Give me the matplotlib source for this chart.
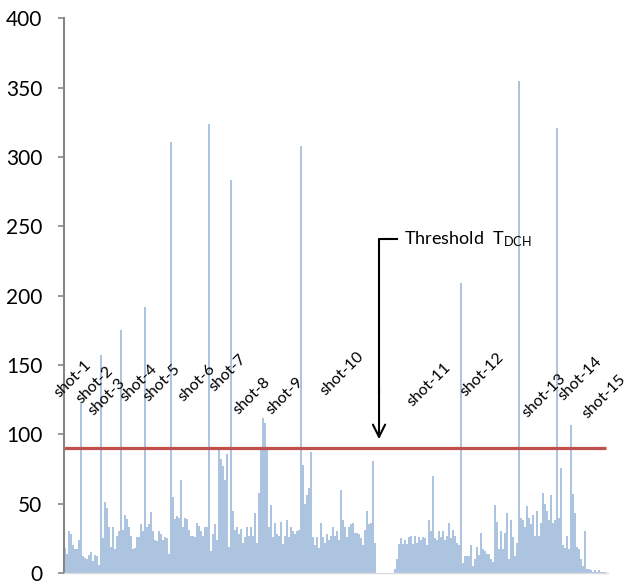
'''frame difference per frame with shot boundaries and threshold.'''
import numpy as np
import matplotlib
matplotlib.use('Agg')
import matplotlib.pyplot as plt

plt.rcParams['font.family'] = ['Lato', 'DejaVu Sans']
plt.rcParams['mathtext.fontset'] = 'custom'
plt.rcParams['mathtext.rm'] = 'Lato'

# frame difference values (one bar per frame)
frame_diff = [
    18, 14, 30, 28, 20, 17, 17, 24, 123, 12,      # shot-1
    11, 10, 13, 15, 9, 13, 12, 6, 157, 25,        # shot-2
    51, 47, 33, 19, 33, 17, 27, 30, 175, 31,      # shot-3 / 4
    42, 39, 33, 27, 17, 18, 26, 26, 35, 30,
    192, 33, 35, 44, 30, 24, 23, 30, 28, 24,      # shot-5
    26, 25, 14, 311, 55, 39, 41, 40, 67, 33,      # shot-6
    40, 39, 31, 27, 27, 26, 36, 34, 30, 27,
    33, 33, 324, 16, 28, 35, 24, 91, 82, 77,      # shot-7
    67, 86, 19, 283, 45, 31, 33, 28, 32, 22,      # shot-8
    26, 33, 27, 33, 27, 43, 22, 58, 91, 112,
    108, 91, 33, 49, 26, 36, 28, 27, 37, 21,
    27, 38, 26, 33, 30, 28, 30, 31, 308, 78,      # shot-10
    50, 56, 61, 87, 26, 20, 26, 18, 36, 26,
    22, 28, 24, 27, 33, 27, 30, 24, 60, 38,
    33, 26, 33, 35, 36, 29, 29, 28, 25, 20,
    31, 45, 35, 36, 81, 22, 0, 0, 0, 0,           # missing frames
    0, 0, 0, 0, 0, 3, 10, 21, 25, 21,             # shot-11
    24, 21, 26, 27, 21, 27, 22, 26, 24, 26,
    25, 20, 38, 30, 70, 25, 24, 30, 26, 30,
    24, 27, 36, 25, 31, 27, 22, 20, 209, 7,       # shot-12
    12, 12, 12, 20, 5, 10, 19, 13, 29, 17,
    16, 14, 14, 10, 8, 49, 37, 17, 30, 17,
    29, 43, 10, 38, 26, 12, 22, 355, 40, 38,      # shot-13
    33, 48, 40, 35, 42, 27, 45, 27, 36, 58,
    50, 45, 38, 56, 36, 38, 321, 40, 76, 20,      # shot-14
    18, 27, 17, 107, 57, 43, 19, 17, 10, 5,       # shot-15
    30, 3, 3, 2, 1, 2, 1, 2, 1, 1, 1,
]

threshold = 90
shot_names = ['shot-%d' % k for k in range(1, 16)]
# label anchor (frame index, value) for each shot name
label_frame = [4, 15, 21, 37, 48.5, 66, 81.5, 93.5, 110, 138.5, 182, 208.5, 239.5, 257.5, 269.5]
label_value = [140, 135.5, 127, 137, 137, 137, 144, 127.5, 128, 144, 135.5, 143, 128, 140, 127]

frames = np.arange(len(frame_diff))

fig = plt.figure(figsize=(6.29, 5.84), dpi=100)
ax = fig.add_axes([0.1017, 0.0188, 0.865, 0.950])

ax.bar(frames, frame_diff, width=0.9, color='#adc4e1', linewidth=0)
ax.hlines(threshold, -0.5, len(frame_diff) - 0.5, color='#c0504d', lw=2.3)

for name, fx, fy in zip(shot_names, label_frame, label_value):
    ax.text(fx, fy, name, rotation=45, ha='center', va='center', fontsize=11.5,
            clip_on=False)

# threshold annotation
ax.plot([157, 157, 166], [threshold + 40, 240.7, 240.7], color='black', lw=1.5)
ax.annotate('', xy=(157, threshold + 4.5), xytext=(157, threshold + 45),
            arrowprops=dict(arrowstyle='->', lw=1.5, color='black', mutation_scale=22))
ax.text(169.5, 240.7, r'Threshold  $\mathregular{T_{DCH}}$', ha='left', va='center',
        fontsize=13)

ax.set_xlim(-0.5, 271.5)
ax.set_ylim(0, 400)
ax.set_yticks(np.arange(0, 401, 50))
ax.set_xticks([])
ax.tick_params(axis='y', direction='out', length=4.5, width=1.2, color='#868686',
               labelsize=15, pad=11)
for side in ['top', 'right']:
    ax.spines[side].set_visible(False)
ax.spines['left'].set_color('#868686')
ax.spines['left'].set_linewidth(1.5)
ax.spines['bottom'].set_color('#dcdcdc')
ax.spines['bottom'].set_linewidth(1.0)

fig.savefig('out.png', dpi=100)
